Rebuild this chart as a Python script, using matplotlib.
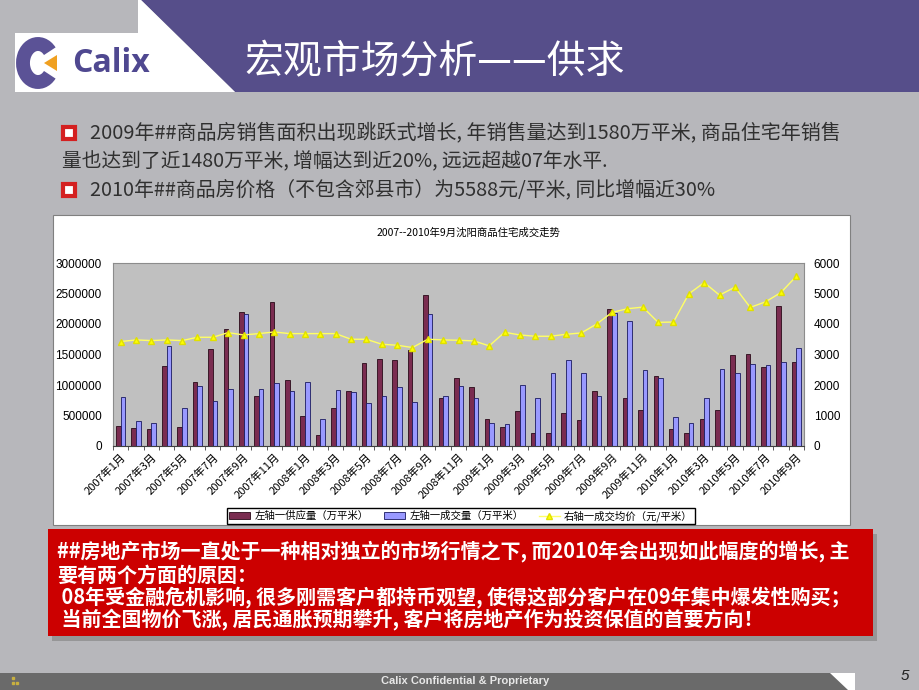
import matplotlib
matplotlib.use('Agg')
import matplotlib.pyplot as plt
import matplotlib.patches as mpatches
from matplotlib.ticker import FuncFormatter
import numpy as np

plt.rcParams['font.family'] = ['Noto Sans CJK SC', 'DejaVu Sans']

# months 2007-01 .. 2010-09
months = ['%d年%d月' % (2007 + i // 12, i % 12 + 1) for i in range(45)]

# supply (left axis)
supply = [320000, 288000, 272000, 1315000, 304000, 1049000, 1582000, 1924000, 2196000, 815000,
          2353000, 1087000, 495000, 185000, 620000, 902000, 1359000, 1429000, 1402000, 1576000,
          2478000, 793000, 1120000, 962000, 440000, 304000, 576000, 212000, 212000, 549000,
          429000, 908000, 2245000, 783000, 582000, 1152000, 283000, 217000, 435000, 592000,
          1489000, 1516000, 1288000, 2299000, 1370000]
# deals (left axis)
deals = [810000, 408000, 370000, 1636000, 625000, 984000, 734000, 940000, 2163000, 940000,
         1033000, 908000, 1049000, 446000, 924000, 880000, 707000, 826000, 973000, 723000,
         2158000, 815000, 989000, 793000, 370000, 364000, 1000000, 788000, 1190000, 1402000,
         1190000, 815000, 2185000, 2049000, 1250000, 1120000, 478000, 380000, 788000, 1266000,
         1201000, 1342000, 1326000, 1375000, 1603000]
# average price (right axis)
price = [3424, 3478, 3456, 3478, 3456, 3565, 3565, 3717, 3641, 3685,
         3739, 3685, 3685, 3685, 3685, 3500, 3500, 3337, 3304, 3228,
         3500, 3478, 3467, 3446, 3283, 3728, 3641, 3598, 3598, 3663,
         3707, 4000, 4380, 4500, 4554, 4054, 4065, 4989, 5359, 4946,
         5207, 4543, 4728, 5033, 5565]

bullet_lines = ['2009年##商品房销售面积出现跳跃式增长, 年销售量达到1580万平米, 商品住宅年销售',
                '量也达到了近1480万平米, 增幅达到近20%, 远远超越07年水平.',
                '2010年##商品房价格（不包含郊县市）为5588元/平米, 同比增幅近30%']
red_lines = ['##房地产市场一直处于一种相对独立的市场行情之下, 而2010年会出现如此幅度的增长, 主',
             '要有两个方面的原因：',
             ' 08年受金融危机影响, 很多刚需客户都持币观望, 使得这部分客户在09年集中爆发性购买；',
             ' 当前全国物价飞涨, 居民通胀预期攀升, 客户将房地产作为投资保值的首要方向！']

W, H = 920, 690
fig = plt.figure(figsize=(W / 100, H / 100), dpi=100)
fig.patch.set_facecolor('#b7b7bb')

# background layer in pixel coords
bg = fig.add_axes([0, 0, 1, 1])
bg.set_xlim(0, W)
bg.set_ylim(H, 0)
bg.axis('off')

# header band
bg.add_patch(mpatches.Polygon([(141, 0), (W, 0), (W, 92), (235, 92)], closed=True,
                              facecolor='#564e8a', edgecolor='none'))
bg.add_patch(mpatches.Polygon([(15, 33), (138, 33), (138, 0), (141, 0), (235, 92), (15, 92)],
                              closed=True, facecolor='white', edgecolor='none'))
bg.text(244, 62, '宏观市场分析——供求', color='white', fontsize=28, va='center', ha='left',
        style='italic')

# logo
bg.add_patch(mpatches.Arc((38, 63), 30, 38, theta1=45, theta2=315, lw=10, color='#5b5296'))
bg.add_patch(mpatches.Polygon([(44, 63), (57, 55), (57, 71)], closed=True,
                              facecolor='#f0a020', edgecolor='none'))
bg.text(72, 64, 'Calix', color='#4f4890', fontsize=23, fontweight='bold', va='center',
        ha='left', family=['Open Sans', 'DejaVu Sans'])

# bullets
for y in (133, 190):
    bg.add_patch(mpatches.Rectangle((63, y - 6), 12, 12, facecolor='white',
                                    edgecolor='#d42020', lw=3))
bg.text(90, 133, bullet_lines[0], fontsize=14.4, color='#303030', va='center', ha='left')
bg.text(62, 162, bullet_lines[1], fontsize=14.2, color='#303030', va='center', ha='left')
bg.text(90, 190, bullet_lines[2], fontsize=14.3, color='#303030', va='center', ha='left')

# chart frame
bg.add_patch(mpatches.Rectangle((53, 215), 797, 310, facecolor='white',
                                edgecolor='#808080', lw=0.8))
bg.text(468, 233, '2007--2010年9月沈阳商品住宅成交走势', fontsize=7.5, ha='center',
        va='center', color='black')

# red box with shadow
bg.add_patch(mpatches.Rectangle((52, 534), 825, 107, facecolor='#808080',
                                edgecolor='none', alpha=0.6))
bg.add_patch(mpatches.Rectangle((48, 529), 825, 107, facecolor='#cc0000',
                                edgecolor='none'))
ys = [551, 575, 597, 620]
for y, line in zip(ys, red_lines):
    bg.text(57, y, line, fontsize=14.4, color='white', fontweight='bold',
            va='center', ha='left')

# footer
bg.add_patch(mpatches.Rectangle((0, 673), 855, 17, facecolor='#6a6a6a', edgecolor='none'))
bg.add_patch(mpatches.Polygon([(830, 673), (855, 673), (855, 690), (848, 690)], closed=True,
                              facecolor='white', edgecolor='none'))
bg.text(465, 681, 'Calix Confidential & Proprietary', fontsize=8, color='#e8e8e8',
        fontweight='bold', ha='center', va='center', family=['Liberation Sans'])
for (px, py) in [(13, 678), (13, 683), (17, 683)]:
    bg.plot(px, py, 's', color='#c8b040', ms=2)
bg.text(905, 676, '5', fontsize=11, color='#202020', style='italic', ha='center',
        va='center', family=['Liberation Sans'])

# chart plot area
ax = fig.add_axes([113 / W, (H - 446) / H, (804 - 113) / W, (446 - 263) / H])
ax.set_facecolor('#c0c0c0')
x = np.arange(len(months))
bw = 0.3
b1 = ax.bar(x - bw / 2, supply, bw, color='#7a2c50', edgecolor='#2a0a18', lw=0.6,
            label='左轴一供应量（万平米）')
b2 = ax.bar(x + bw / 2, deals, bw, color='#9999ff', edgecolor='#1a1a60', lw=0.6,
            label='左轴一成交量（万平米）')
ax.set_xlim(-0.5, len(months) - 0.5)
ax.set_ylim(0, 3000000)
ax.set_yticks(np.arange(0, 3000001, 500000))
ax.yaxis.set_major_formatter(FuncFormatter(lambda v, p: '%d' % v))
ax.tick_params(axis='y', length=0, pad=8, labelsize=8.5)
for lab in ax.get_yticklabels():
    lab.set_family(['Liberation Sans'])
ax.set_xticks(x[::2])
ax.set_xticklabels(months[::2], rotation=45, ha='right', rotation_mode='anchor',
                   fontsize=8)
ax.set_xticks(np.arange(-0.5, len(months), 1), minor=True)
ax.tick_params(axis='x', which='major', length=0, pad=4)
ax.tick_params(axis='x', which='minor', length=3, color='#404040')
for s in ax.spines.values():
    s.set_color('#8c8c8c')
    s.set_linewidth(0.8)
ax.spines['bottom'].set_color('#404040')

ax2 = ax.twinx()
l1, = ax2.plot(x, price, color='#ffff66', lw=1, marker='^', ms=4,
               markerfacecolor='#ffff00', markeredgecolor='#e0e000',
               label='右轴一成交均价（元/平米）')
ax2.set_ylim(0, 6000)
ax2.set_yticks(np.arange(0, 6001, 1000))
ax2.tick_params(axis='y', length=0, pad=7, labelsize=8.5)
for lab in ax2.get_yticklabels():
    lab.set_family(['Liberation Sans'])
for s in ax2.spines.values():
    s.set_visible(False)

fig.legend(handles=[b1, b2, l1], loc='center', ncol=3, fontsize=7.5,
           bbox_to_anchor=(461 / W, (H - 516) / H), frameon=True, fancybox=False,
           edgecolor='black', framealpha=1, handlelength=2, handleheight=0.7,
           borderpad=0.25, columnspacing=1.5, handletextpad=0.4)

fig.savefig('out.png', dpi=100, facecolor=fig.get_facecolor())
